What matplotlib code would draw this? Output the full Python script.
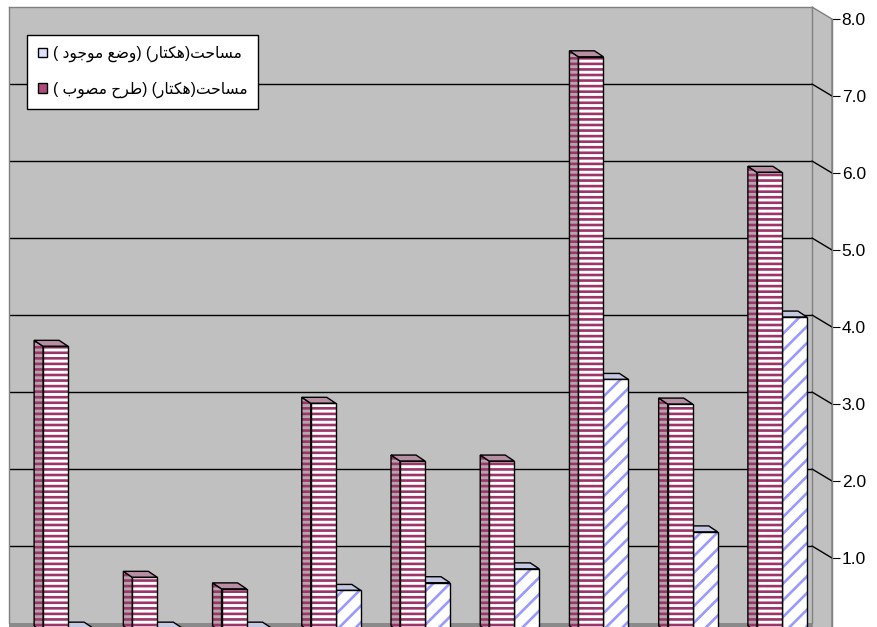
import matplotlib
matplotlib.use("Agg")
import matplotlib.pyplot as plt
from matplotlib.patches import Polygon, Patch, Rectangle

plt.rcParams['font.family'] = ['Liberation Sans', 'DejaVu Sans']
plt.rcParams['hatch.linewidth'] = 1.9

# ---------------- data ----------------
categories = [1, 2, 3, 4, 5, 6, 7, 8, 9]
area_existing = [0.05, 0.05, 0.05, 0.54, 0.64, 0.82, 3.28, 1.30, 4.09]   # blue
area_approved = [3.71, 0.71, 0.56, 2.97, 2.22, 2.22, 7.47, 2.96, 5.97]   # red
label_existing = "مساحت(هکتار) (وضع موجود )"
label_approved = "مساحت(هکتار) (طرح مصوب )"
y_ticks = [0, 1, 2, 3, 4, 5, 6, 7, 8]
y_tick_labels = ["", "1.0", "2.0", "3.0", "4.0", "5.0", "6.0", "7.0", "8.0"]

# ------------- Arabic shaping (display only) -------------
FORMS = {
    'ا': ('\uFE8D', '\uFE8E', None, None),
    'ب': ('\uFE8F', '\uFE90', '\uFE91', '\uFE92'),
    'ت': ('\uFE95', '\uFE96', '\uFE97', '\uFE98'),
    'ج': ('\uFE9D', '\uFE9E', '\uFE9F', '\uFEA0'),
    'ح': ('\uFEA1', '\uFEA2', '\uFEA3', '\uFEA4'),
    'د': ('\uFEA9', '\uFEAA', None, None),
    'ر': ('\uFEAD', '\uFEAE', None, None),
    'س': ('\uFEB1', '\uFEB2', '\uFEB3', '\uFEB4'),
    'ص': ('\uFEB9', '\uFEBA', '\uFEBB', '\uFEBC'),
    'ض': ('\uFEBD', '\uFEBE', '\uFEBF', '\uFEC0'),
    'ط': ('\uFEC1', '\uFEC2', '\uFEC3', '\uFEC4'),
    'ع': ('\uFEC9', '\uFECA', '\uFECB', '\uFECC'),
    'م': ('\uFEE1', '\uFEE2', '\uFEE3', '\uFEE4'),
    'ه': ('\uFEE9', '\uFEEA', '\uFEEB', '\uFEEC'),
    'و': ('\uFEED', '\uFEEE', None, None),
    'ک': ('\uFB8E', '\uFB8F', '\uFB90', '\uFB91'),
}
MIRROR = {'(': ')', ')': '('}


def shape_rtl(s):
    out = []
    n = len(s)
    for k, c in enumerate(s):
        if c not in FORMS:
            out.append(c)
            continue
        iso, fin, ini, med = FORMS[c]
        prev = s[k - 1] if k > 0 else ''
        nxt = s[k + 1] if k + 1 < n else ''
        pj = prev in FORMS and FORMS[prev][2] is not None
        nj = nxt in FORMS and ini is not None
        if pj and nj:
            out.append(med)
        elif pj:
            out.append(fin)
        elif nj:
            out.append(ini)
        else:
            out.append(iso)
    return ''.join(MIRROR.get(c, c) for c in reversed(out))


# ---------------- layout (pixels) ----------------
W, H = 877, 627
WL, WR, WT, WB = 9, 812, 7, 623          # back wall
DX, DY = 20, 12                          # full depth of floor
fig = plt.figure(figsize=(W / 100, H / 100), dpi=100)
fig.patch.set_facecolor('white')

ax = fig.add_axes([WL / W, (H - WB) / H, (WR - WL) / W, (WB - WT) / H])
ax.set_xlim(-0.5, len(categories) - 0.5)
ax.set_ylim(0, 8)
ax.set_facecolor('#c0c0c0')
for side in ['left', 'top', 'right']:
    ax.spines[side].set_color('#808080')
    ax.spines[side].set_linewidth(1.0)
ax.spines['bottom'].set_visible(False)
ax.set_xticks([])
ax.set_yticks([])


def fx(px):
    return px / W


def fy(py):
    return 1 - py / H


side = Polygon([(fx(WR), fy(WT)), (fx(WR + DX), fy(WT + DY)), (fx(WR + DX), fy(H + 5)),
                (fx(WR), fy(H + 5))], closed=True, transform=fig.transFigure,
               facecolor='#c0c0c0', edgecolor='#808080', lw=1.0, zorder=-2)
fig.add_artist(side)
floor = Rectangle((fx(WL), 0), fx(WR + DX) - fx(WL), fy(WB), transform=fig.transFigure,
                  facecolor='#8a8a8a', edgecolor='none', zorder=-3)
fig.add_artist(floor)

# gridlines on back wall + diagonals on side wall
for v in y_ticks[1:-1]:
    ax.axhline(v, color='black', lw=1.0, zorder=1)
    ax.annotate('', xy=(1, v), xycoords=('axes fraction', 'data'),
                xytext=(DX * 0.72, -DY * 0.72), textcoords='offset points',
                arrowprops=dict(arrowstyle='-', color='black', lw=1.0,
                                shrinkA=0, shrinkB=0), annotation_clip=False)

# front plane axis with tick labels
ax2 = fig.add_axes([(WL + DX) / W, (H - WB - DY) / H, (WR - WL) / W, (WB - WT) / H])
ax2.set_ylim(0, 8)
ax2.patch.set_visible(False)
for s in ['left', 'top', 'bottom']:
    ax2.spines[s].set_visible(False)
ax2.spines['right'].set_color('#808080')
ax2.spines['right'].set_linewidth(1.0)
ax2.set_xticks([])
ax2.yaxis.tick_right()
ax2.set_yticks(y_ticks)
ax2.set_yticklabels(y_tick_labels)
ax2.tick_params(axis='y', direction='out', length=6.0, width=0.8, color='black',
                pad=1.0, labelsize=12.5, labelcolor='black')

# ---------------- 3D-like bars ----------------
ppx = (WR - WL) / len(categories)
ppy = (WB - WT) / 8.0
w = 25 / ppx
bx, by = 5.5 / ppx, 3 / ppy
fxo, fyo = 14.5 / ppx, 9 / ppy

styles = {
    'blue': dict(front_fc='white', hatch='//', hatch_c='#9999ff',
                 side_fc='#a8acc8', top_fc='#c4c8e0'),
    'red': dict(front_fc='white', hatch='---', hatch_c='#9c3468',
                side_fc='#b4a4ac', top_fc='#b88ea2'),
}


def draw_bar(xl, v, st, z):
    pts_side = [(xl + bx, -by), (xl + bx, v - by), (xl + fxo, v - fyo), (xl + fxo, -fyo)]
    ax.add_patch(Polygon(pts_side, closed=True, facecolor=st['side_fc'], edgecolor='none',
                         clip_on=False, zorder=z))
    ax.add_patch(Polygon(pts_side, closed=True, facecolor='none', edgecolor=st['hatch_c'],
                         hatch=st['hatch'], lw=0, clip_on=False, zorder=z + 0.01))
    ax.add_patch(Polygon(pts_side, closed=True, fill=False, edgecolor='black',
                         lw=1.0, clip_on=False, zorder=z + 0.02))
    topp = Polygon([(xl + bx, v - by), (xl + w + bx, v - by), (xl + w + fxo, v - fyo),
                    (xl + fxo, v - fyo)], closed=True, facecolor=st['top_fc'],
                   edgecolor='black', lw=1.0, clip_on=False, zorder=z + 0.03)
    ax.add_patch(topp)
    ax.bar(xl + fxo, v, width=w, bottom=-fyo, align='edge', color=st['front_fc'],
           hatch=st['hatch'], edgecolor=st['hatch_c'], lw=0, clip_on=False, zorder=z + 0.04)
    ax.bar(xl + fxo, v, width=w, bottom=-fyo, align='edge', fill=False,
           edgecolor='black', lw=1.0, clip_on=False, zorder=z + 0.05)


for i in range(len(categories)):
    draw_bar(i, area_existing[i], styles['blue'], 3 + i * 0.2)
    draw_bar(i - w, area_approved[i], styles['red'], 3 + i * 0.2 + 0.1)

# ---------------- legend ----------------
handles = [Patch(facecolor='#dde0ff', edgecolor='black', lw=1.0),
           Patch(facecolor='#b04a7c', edgecolor='black', lw=1.0)]
labels = [shape_rtl(label_existing), shape_rtl(label_approved)]
leg = ax.legend(handles, labels, loc='upper left',
                bbox_to_anchor=(fx(27), fy(35)), bbox_transform=fig.transFigure,
                borderaxespad=0, fancybox=False, framealpha=1, edgecolor='black',
                fontsize=11.2, handlelength=0.6, handleheight=0.6, handletextpad=0.35,
                borderpad=0.7, labelspacing=1.25)
leg.get_frame().set_linewidth(1.0)
leg.set_zorder(20)

fig.savefig('out.png', dpi=100)
